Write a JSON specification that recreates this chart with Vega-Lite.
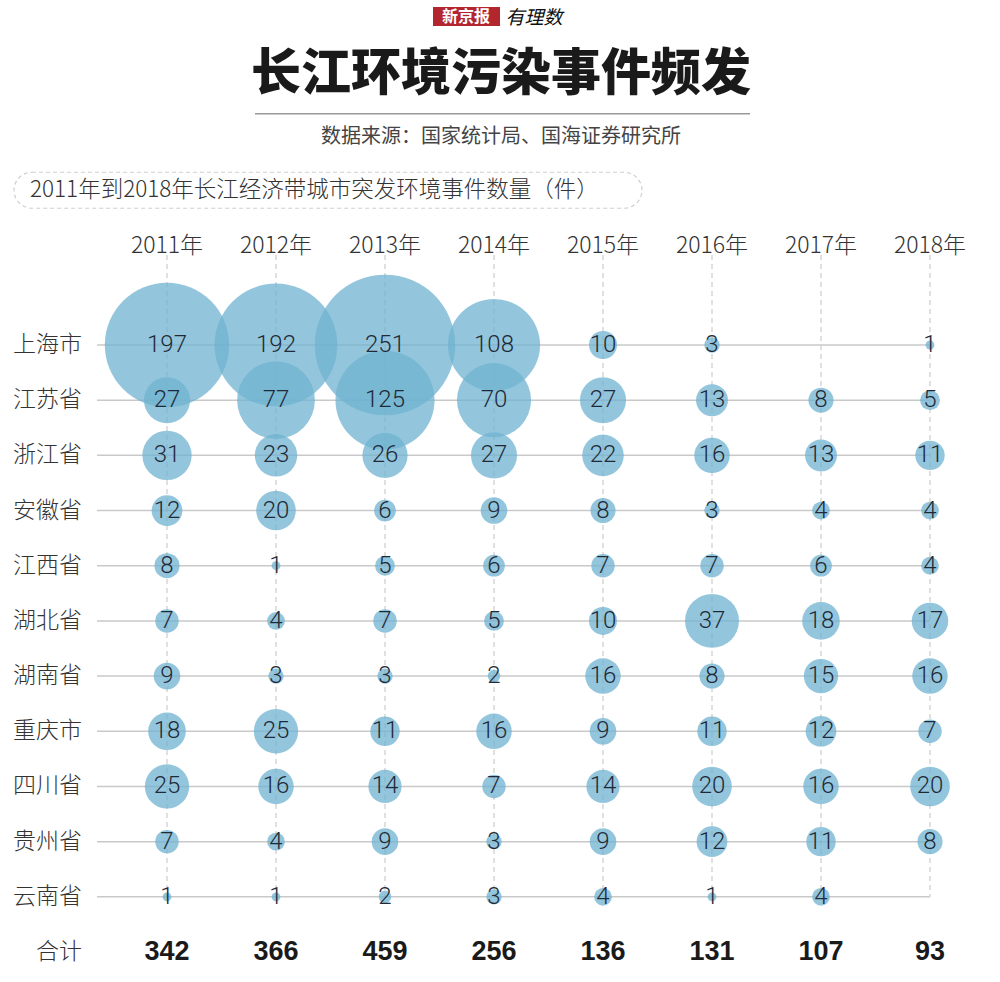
{
  "$schema": "https://vega.github.io/schema/vega-lite/v6.json",
  "width": 1000,
  "height": 982,
  "autosize": "none",
  "padding": 0,
  "background": "white",
  "config": {"view": {"stroke": null}, "font": "Noto Sans CJK SC"},
  "datasets": {
    "one": [{}],
    "years": [{"yr": "2011", "lab": "2011年"}, {"yr": "2012", "lab": "2012年"}, {"yr": "2013", "lab": "2013年"}, {"yr": "2014", "lab": "2014年"}, {"yr": "2015", "lab": "2015年"}, {"yr": "2016", "lab": "2016年"}, {"yr": "2017", "lab": "2017年"}, {"yr": "2018", "lab": "2018年"}],
    "rows": [{"p": "上海市"}, {"p": "江苏省"}, {"p": "浙江省"}, {"p": "安徽省"}, {"p": "江西省"}, {"p": "湖北省"}, {"p": "湖南省"}, {"p": "重庆市"}, {"p": "四川省"}, {"p": "贵州省"}, {"p": "云南省"}],
    "labels": [{"p": "上海市"}, {"p": "江苏省"}, {"p": "浙江省"}, {"p": "安徽省"}, {"p": "江西省"}, {"p": "湖北省"}, {"p": "湖南省"}, {"p": "重庆市"}, {"p": "四川省"}, {"p": "贵州省"}, {"p": "云南省"}, {"p": "合计"}],
    "totals": [{"yr": "2011", "t": 342}, {"yr": "2012", "t": 366}, {"yr": "2013", "t": 459}, {"yr": "2014", "t": 256}, {"yr": "2015", "t": 136}, {"yr": "2016", "t": 131}, {"yr": "2017", "t": 107}, {"yr": "2018", "t": 93}],
    "bubbles": [
      {"p": "上海市", "yr": "2011", "v": 197}, {"p": "上海市", "yr": "2012", "v": 192}, {"p": "上海市", "yr": "2013", "v": 251}, {"p": "上海市", "yr": "2014", "v": 108}, {"p": "上海市", "yr": "2015", "v": 10}, {"p": "上海市", "yr": "2016", "v": 3}, {"p": "上海市", "yr": "2018", "v": 1},
      {"p": "江苏省", "yr": "2011", "v": 27}, {"p": "江苏省", "yr": "2012", "v": 77}, {"p": "江苏省", "yr": "2013", "v": 125}, {"p": "江苏省", "yr": "2014", "v": 70}, {"p": "江苏省", "yr": "2015", "v": 27}, {"p": "江苏省", "yr": "2016", "v": 13}, {"p": "江苏省", "yr": "2017", "v": 8}, {"p": "江苏省", "yr": "2018", "v": 5},
      {"p": "浙江省", "yr": "2011", "v": 31}, {"p": "浙江省", "yr": "2012", "v": 23}, {"p": "浙江省", "yr": "2013", "v": 26}, {"p": "浙江省", "yr": "2014", "v": 27}, {"p": "浙江省", "yr": "2015", "v": 22}, {"p": "浙江省", "yr": "2016", "v": 16}, {"p": "浙江省", "yr": "2017", "v": 13}, {"p": "浙江省", "yr": "2018", "v": 11},
      {"p": "安徽省", "yr": "2011", "v": 12}, {"p": "安徽省", "yr": "2012", "v": 20}, {"p": "安徽省", "yr": "2013", "v": 6}, {"p": "安徽省", "yr": "2014", "v": 9}, {"p": "安徽省", "yr": "2015", "v": 8}, {"p": "安徽省", "yr": "2016", "v": 3}, {"p": "安徽省", "yr": "2017", "v": 4}, {"p": "安徽省", "yr": "2018", "v": 4},
      {"p": "江西省", "yr": "2011", "v": 8}, {"p": "江西省", "yr": "2012", "v": 1}, {"p": "江西省", "yr": "2013", "v": 5}, {"p": "江西省", "yr": "2014", "v": 6}, {"p": "江西省", "yr": "2015", "v": 7}, {"p": "江西省", "yr": "2016", "v": 7}, {"p": "江西省", "yr": "2017", "v": 6}, {"p": "江西省", "yr": "2018", "v": 4},
      {"p": "湖北省", "yr": "2011", "v": 7}, {"p": "湖北省", "yr": "2012", "v": 4}, {"p": "湖北省", "yr": "2013", "v": 7}, {"p": "湖北省", "yr": "2014", "v": 5}, {"p": "湖北省", "yr": "2015", "v": 10}, {"p": "湖北省", "yr": "2016", "v": 37}, {"p": "湖北省", "yr": "2017", "v": 18}, {"p": "湖北省", "yr": "2018", "v": 17},
      {"p": "湖南省", "yr": "2011", "v": 9}, {"p": "湖南省", "yr": "2012", "v": 3}, {"p": "湖南省", "yr": "2013", "v": 3}, {"p": "湖南省", "yr": "2014", "v": 2}, {"p": "湖南省", "yr": "2015", "v": 16}, {"p": "湖南省", "yr": "2016", "v": 8}, {"p": "湖南省", "yr": "2017", "v": 15}, {"p": "湖南省", "yr": "2018", "v": 16},
      {"p": "重庆市", "yr": "2011", "v": 18}, {"p": "重庆市", "yr": "2012", "v": 25}, {"p": "重庆市", "yr": "2013", "v": 11}, {"p": "重庆市", "yr": "2014", "v": 16}, {"p": "重庆市", "yr": "2015", "v": 9}, {"p": "重庆市", "yr": "2016", "v": 11}, {"p": "重庆市", "yr": "2017", "v": 12}, {"p": "重庆市", "yr": "2018", "v": 7},
      {"p": "四川省", "yr": "2011", "v": 25}, {"p": "四川省", "yr": "2012", "v": 16}, {"p": "四川省", "yr": "2013", "v": 14}, {"p": "四川省", "yr": "2014", "v": 7}, {"p": "四川省", "yr": "2015", "v": 14}, {"p": "四川省", "yr": "2016", "v": 20}, {"p": "四川省", "yr": "2017", "v": 16}, {"p": "四川省", "yr": "2018", "v": 20},
      {"p": "贵州省", "yr": "2011", "v": 7}, {"p": "贵州省", "yr": "2012", "v": 4}, {"p": "贵州省", "yr": "2013", "v": 9}, {"p": "贵州省", "yr": "2014", "v": 3}, {"p": "贵州省", "yr": "2015", "v": 9}, {"p": "贵州省", "yr": "2016", "v": 12}, {"p": "贵州省", "yr": "2017", "v": 11}, {"p": "贵州省", "yr": "2018", "v": 8},
      {"p": "云南省", "yr": "2011", "v": 1}, {"p": "云南省", "yr": "2012", "v": 1}, {"p": "云南省", "yr": "2013", "v": 2}, {"p": "云南省", "yr": "2014", "v": 3}, {"p": "云南省", "yr": "2015", "v": 4}, {"p": "云南省", "yr": "2016", "v": 1}, {"p": "云南省", "yr": "2017", "v": 4}
    ]
  },
  "resolve": {"scale": {"y": "independent"}},
  "layer": [
    {
      "data": {"name": "one"},
      "mark": {"type": "rect", "color": "#b3262d", "xOffset": -61, "x2Offset": 6, "yOffset": -8, "y2Offset": 11},
      "encoding": {
        "x": {"datum": "2014", "type": "nominal", "scale": {"type": "point", "padding": 0, "domain": ["label", "2011", "2012", "2013", "2014", "2015", "2016", "2017", "2018"], "range": [58, 930]}, "axis": null},
        "x2": {"datum": "2014"},
        "y": {"datum": "logo", "type": "nominal", "scale": {"type": "point", "padding": 0, "domain": ["logo", "title", "source", "caption", "year"], "range": [15, 246]}, "axis": null},
        "y2": {"datum": "logo"}
      }
    },
    {
      "data": {"name": "one"},
      "mark": {"type": "text", "text": "新京报", "color": "white", "fontSize": 16, "fontWeight": "bold", "font": "Noto Sans CJK SC", "dx": -28, "dy": 2},
      "encoding": {
        "x": {"datum": "2014", "type": "nominal", "scale": {"type": "point", "padding": 0, "domain": ["label", "2011", "2012", "2013", "2014", "2015", "2016", "2017", "2018"], "range": [58, 930]}, "axis": null},
        "y": {"datum": "logo", "type": "nominal", "scale": {"type": "point", "padding": 0, "domain": ["logo", "title", "source", "caption", "year"], "range": [15, 246]}, "axis": null}
      }
    },
    {
      "data": {"name": "one"},
      "mark": {"type": "text", "text": "有理数", "color": "#111", "fontSize": 19, "fontStyle": "italic", "font": "Noto Sans CJK SC", "dx": 40, "dy": 3},
      "encoding": {
        "x": {"datum": "2014", "type": "nominal", "scale": {"type": "point", "padding": 0, "domain": ["label", "2011", "2012", "2013", "2014", "2015", "2016", "2017", "2018"], "range": [58, 930]}, "axis": null},
        "y": {"datum": "logo", "type": "nominal", "scale": {"type": "point", "padding": 0, "domain": ["logo", "title", "source", "caption", "year"], "range": [15, 246]}, "axis": null}
      }
    },
    {
      "data": {"name": "one"},
      "mark": {"type": "text", "text": "长江环境污染事件频发", "color": "#1a1a1a", "fontSize": 50, "fontWeight": 900, "font": "Noto Sans CJK SC", "dx": 7, "dy": 2},
      "encoding": {
        "x": {"datum": "2014", "type": "nominal", "scale": {"type": "point", "padding": 0, "domain": ["label", "2011", "2012", "2013", "2014", "2015", "2016", "2017", "2018"], "range": [58, 930]}, "axis": null},
        "y": {"datum": "title", "type": "nominal", "scale": {"type": "point", "padding": 0, "domain": ["logo", "title", "source", "caption", "year"], "range": [15, 246]}, "axis": null}
      }
    },
    {
      "data": {"name": "one"},
      "mark": {"type": "rule", "color": "#9a9a9a", "strokeWidth": 1.5, "xOffset": -21, "x2Offset": -71, "yOffset": 41, "y2Offset": 41},
      "encoding": {
        "x": {"datum": "2012", "type": "nominal", "scale": {"type": "point", "padding": 0, "domain": ["label", "2011", "2012", "2013", "2014", "2015", "2016", "2017", "2018"], "range": [58, 930]}, "axis": null},
        "x2": {"datum": "2017"},
        "y": {"datum": "title", "type": "nominal", "scale": {"type": "point", "padding": 0, "domain": ["logo", "title", "source", "caption", "year"], "range": [15, 246]}, "axis": null},
        "y2": {"datum": "title"}
      }
    },
    {
      "data": {"name": "one"},
      "mark": {"type": "text", "text": "数据来源：国家统计局、国海证券研究所", "color": "#444", "fontSize": 20, "font": "Noto Sans CJK SC", "dx": 7, "dy": 6},
      "encoding": {
        "x": {"datum": "2014", "type": "nominal", "scale": {"type": "point", "padding": 0, "domain": ["label", "2011", "2012", "2013", "2014", "2015", "2016", "2017", "2018"], "range": [58, 930]}, "axis": null},
        "y": {"datum": "source", "type": "nominal", "scale": {"type": "point", "padding": 0, "domain": ["logo", "title", "source", "caption", "year"], "range": [15, 246]}, "axis": null}
      }
    },
    {
      "data": {"name": "one"},
      "mark": {"type": "rect", "fill": null, "stroke": "#cfcfcf", "strokeWidth": 1.2, "strokeDash": [4, 3], "cornerRadius": 18, "xOffset": -44, "x2Offset": 39, "yOffset": -16, "y2Offset": 20},
      "encoding": {
        "x": {"datum": "label", "type": "nominal", "scale": {"type": "point", "padding": 0, "domain": ["label", "2011", "2012", "2013", "2014", "2015", "2016", "2017", "2018"], "range": [58, 930]}, "axis": null},
        "x2": {"datum": "2015"},
        "y": {"datum": "caption", "type": "nominal", "scale": {"type": "point", "padding": 0, "domain": ["logo", "title", "source", "caption", "year"], "range": [15, 246]}, "axis": null},
        "y2": {"datum": "caption"}
      }
    },
    {
      "data": {"name": "one"},
      "mark": {"type": "text", "text": "2011年到2018年长江经济带城市突发环境事件数量（件）", "color": "#333", "fontSize": 22.5, "font": "Noto Sans CJK SC", "fontWeight": 300, "align": "left", "dx": -28, "dy": 2},
      "encoding": {
        "x": {"datum": "label", "type": "nominal", "scale": {"type": "point", "padding": 0, "domain": ["label", "2011", "2012", "2013", "2014", "2015", "2016", "2017", "2018"], "range": [58, 930]}, "axis": null},
        "y": {"datum": "caption", "type": "nominal", "scale": {"type": "point", "padding": 0, "domain": ["logo", "title", "source", "caption", "year"], "range": [15, 246]}, "axis": null}
      }
    },
    {
      "data": {"name": "years"},
      "mark": {"type": "text", "color": "#333", "fontSize": 23, "font": "Noto Sans CJK SC", "fontWeight": 300},
      "encoding": {
        "x": {"field": "yr", "type": "nominal", "scale": {"type": "point", "padding": 0, "domain": ["label", "2011", "2012", "2013", "2014", "2015", "2016", "2017", "2018"], "range": [58, 930]}, "axis": null},
        "y": {"datum": "year", "type": "nominal", "scale": {"type": "point", "padding": 0, "domain": ["logo", "title", "source", "caption", "year"], "range": [15, 246]}, "axis": null},
        "text": {"field": "lab"}
      }
    },
    {
      "data": {"name": "rows"},
      "mark": {"type": "rule", "color": "#c9c9c9", "strokeWidth": 1.5, "xOffset": -70},
      "encoding": {
        "x": {"datum": "2011", "type": "nominal", "scale": {"type": "point", "padding": 0, "domain": ["label", "2011", "2012", "2013", "2014", "2015", "2016", "2017", "2018"], "range": [58, 930]}, "axis": null},
        "x2": {"datum": "2018"},
        "y": {"field": "p", "type": "nominal", "scale": {"type": "point", "padding": 0, "domain": ["上海市", "江苏省", "浙江省", "安徽省", "江西省", "湖北省", "湖南省", "重庆市", "四川省", "贵州省", "云南省", "合计"], "range": [345, 952]}, "axis": null}
      }
    },
    {
      "data": {"name": "years"},
      "mark": {"type": "rule", "color": "#cccccc", "strokeWidth": 1.2, "strokeDash": [5, 4], "yOffset": -90},
      "encoding": {
        "x": {"field": "yr", "type": "nominal", "scale": {"type": "point", "padding": 0, "domain": ["label", "2011", "2012", "2013", "2014", "2015", "2016", "2017", "2018"], "range": [58, 930]}, "axis": null},
        "y": {"datum": "上海市", "type": "nominal", "scale": {"type": "point", "padding": 0, "domain": ["上海市", "江苏省", "浙江省", "安徽省", "江西省", "湖北省", "湖南省", "重庆市", "四川省", "贵州省", "云南省", "合计"], "range": [345, 952]}, "axis": null},
        "y2": {"datum": "云南省"}
      }
    },
    {
      "data": {"name": "bubbles"},
      "mark": {"type": "circle", "color": "#6fb3d0", "opacity": 0.75, "strokeWidth": 0},
      "encoding": {
        "x": {"field": "yr", "type": "nominal", "scale": {"type": "point", "padding": 0, "domain": ["label", "2011", "2012", "2013", "2014", "2015", "2016", "2017", "2018"], "range": [58, 930]}, "axis": null},
        "y": {"field": "p", "type": "nominal", "scale": {"type": "point", "padding": 0, "domain": ["上海市", "江苏省", "浙江省", "安徽省", "江西省", "湖北省", "湖南省", "重庆市", "四川省", "贵州省", "云南省", "合计"], "range": [345, 952]}, "axis": null},
        "size": {"field": "v", "type": "quantitative", "scale": {"type": "linear", "domain": [0, 251], "range": [0, 19713], "zero": true}, "legend": null}
      }
    },
    {
      "data": {"name": "bubbles"},
      "mark": {"type": "text", "color": "#1f2a38", "fontSize": 24, "font": "Roboto", "fontWeight": 300},
      "encoding": {
        "x": {"field": "yr", "type": "nominal", "scale": {"type": "point", "padding": 0, "domain": ["label", "2011", "2012", "2013", "2014", "2015", "2016", "2017", "2018"], "range": [58, 930]}, "axis": null},
        "y": {"field": "p", "type": "nominal", "scale": {"type": "point", "padding": 0, "domain": ["上海市", "江苏省", "浙江省", "安徽省", "江西省", "湖北省", "湖南省", "重庆市", "四川省", "贵州省", "云南省", "合计"], "range": [345, 952]}, "axis": null},
        "text": {"field": "v", "type": "quantitative"}
      }
    },
    {
      "data": {"name": "labels"},
      "mark": {"type": "text", "color": "#333", "fontSize": 23, "font": "Noto Sans CJK SC", "fontWeight": 300, "align": "right", "dx": 24},
      "encoding": {
        "x": {"datum": "label", "type": "nominal", "scale": {"type": "point", "padding": 0, "domain": ["label", "2011", "2012", "2013", "2014", "2015", "2016", "2017", "2018"], "range": [58, 930]}, "axis": null},
        "y": {"field": "p", "type": "nominal", "scale": {"type": "point", "padding": 0, "domain": ["上海市", "江苏省", "浙江省", "安徽省", "江西省", "湖北省", "湖南省", "重庆市", "四川省", "贵州省", "云南省", "合计"], "range": [345, 952]}, "axis": null},
        "text": {"field": "p"}
      }
    },
    {
      "data": {"name": "totals"},
      "mark": {"type": "text", "color": "#1a1a1a", "fontSize": 27, "font": "Liberation Sans", "fontWeight": "bold"},
      "encoding": {
        "x": {"field": "yr", "type": "nominal", "scale": {"type": "point", "padding": 0, "domain": ["label", "2011", "2012", "2013", "2014", "2015", "2016", "2017", "2018"], "range": [58, 930]}, "axis": null},
        "y": {"datum": "合计", "type": "nominal", "scale": {"type": "point", "padding": 0, "domain": ["上海市", "江苏省", "浙江省", "安徽省", "江西省", "湖北省", "湖南省", "重庆市", "四川省", "贵州省", "云南省", "合计"], "range": [345, 952]}, "axis": null},
        "text": {"field": "t", "type": "quantitative"}
      }
    }
  ]
}
